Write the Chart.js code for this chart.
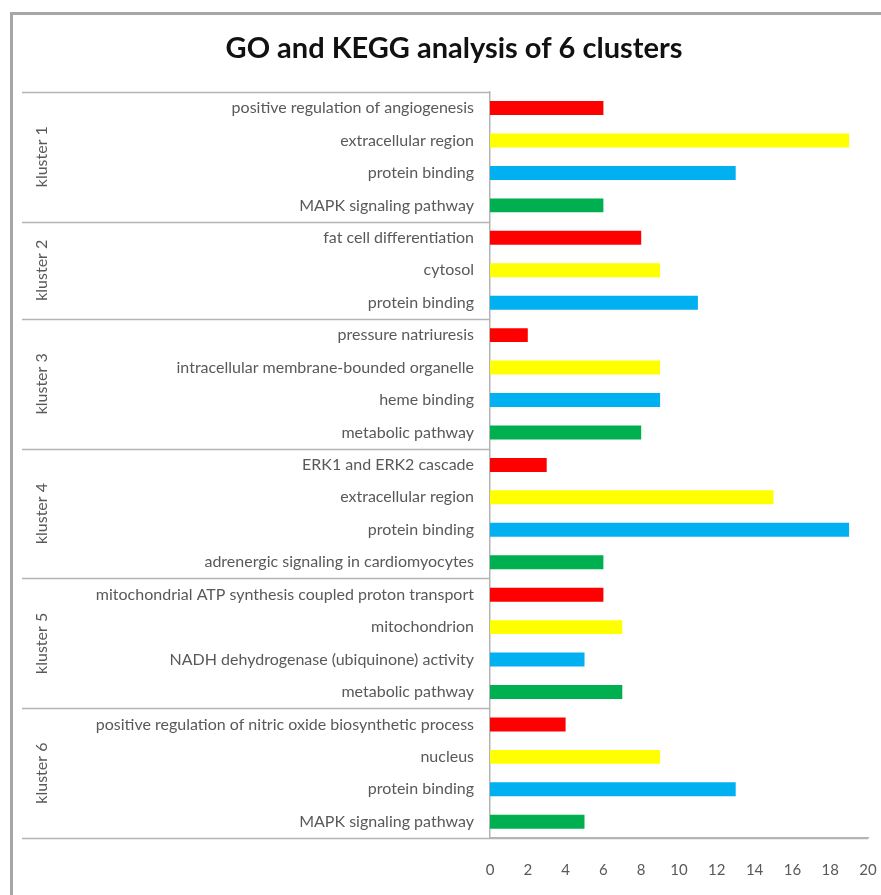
<!DOCTYPE html>
<html>
<head>
<meta charset="utf-8">
<script src="https://cdn.jsdelivr.net/npm/chart.js@4/dist/chart.umd.min.js"></script>
<style>
  html, body { margin: 0; padding: 0; background: #fff; }
  #wrap { width: 881px; height: 895px; position: relative; }
</style>
</head>
<body>
<div id="wrap"><canvas id="c" width="881" height="895"></canvas></div>
<script>
// ---- data ----
const terms = [
  "positive regulation of angiogenesis", "extracellular region", "protein binding", "MAPK signaling pathway",
  "fat cell differentiation", "cytosol", "protein binding",
  "pressure natriuresis", "intracellular membrane-bounded organelle", "heme binding", "metabolic pathway",
  "ERK1 and ERK2 cascade", "extracellular region", "protein binding", "adrenergic signaling in cardiomyocytes",
  "mitochondrial ATP synthesis coupled proton transport", "mitochondrion", "NADH dehydrogenase (ubiquinone) activity", "metabolic pathway",
  "positive regulation of nitric oxide biosynthetic process", "nucleus", "protein binding", "MAPK signaling pathway"
];
const termTypes = [
  "BP","CC","MF","KEGG",
  "BP","CC","MF",
  "BP","CC","MF","KEGG",
  "BP","CC","MF","KEGG",
  "BP","CC","MF","KEGG",
  "BP","CC","MF","KEGG"
];
const counts = [
  6, 19, 13, 6,
  8, 9, 11,
  2, 9, 9, 8,
  3, 15, 19, 6,
  6, 7, 5, 7,
  4, 9, 13, 5
];
const clusterNames = ["kluster 1", "kluster 2", "kluster 3", "kluster 4", "kluster 5", "kluster 6"];
const clusterSizes = [4, 3, 4, 4, 4, 4];
const xTicks = [0, 2, 4, 6, 8, 10, 12, 14, 16, 18, 20];
const typeColors = { BP: "#FF0000", CC: "#FFFF00", MF: "#00B0F0", KEGG: "#00B050" };

const LINE = "#b4b4b4";
const TEXT = "#595959";

const groupPlugin = {
  id: "groups",
  beforeDraw(chart) {
    const ctx = chart.ctx;
    ctx.save();
    ctx.strokeStyle = "#a6a6a6";
    ctx.lineWidth = 3;
    ctx.beginPath();
    ctx.moveTo(11.5, 900);
    ctx.lineTo(11.5, 13.5);
    ctx.lineTo(900, 13.5);
    ctx.stroke();
    ctx.restore();
  },
  afterDraw(chart) {
    const ctx = chart.ctx;
    const y = chart.scales.y;
    const x = chart.scales.x;
    const left = 22;
    const axisX = chart.chartArea.left;
    const step = y.getPixelForValue(1) - y.getPixelForValue(0);
    ctx.save();
    ctx.strokeStyle = LINE;
    ctx.lineWidth = 1.5;
    let start = 0;
    const edges = [y.getPixelForValue(0) - step / 2];
    clusterSizes.forEach(n => {
      start += n;
      edges.push(y.getPixelForValue(start - 1) + step / 2);
    });
    edges.forEach((e, i) => {
      ctx.beginPath();
      ctx.moveTo(left, Math.round(e) + 0.5);
      ctx.lineTo(i === edges.length - 1 ? x.getPixelForValue(20) : axisX, Math.round(e) + 0.5);
      ctx.stroke();
    });
    ctx.fillStyle = TEXT;
    ctx.font = "16px Lato";
    ctx.textAlign = "center";
    ctx.textBaseline = "middle";
    clusterNames.forEach((name, i) => {
      const cy = (edges[i] + edges[i + 1]) / 2;
      ctx.save();
      ctx.translate(42, cy);
      ctx.rotate(-Math.PI / 2);
      ctx.fillText(name, 0, 0);
      ctx.restore();
    });
    ctx.restore();
  }
};

new Chart(document.getElementById("c"), {
  type: "bar",
  data: {
    labels: terms,
    datasets: [{
      data: counts,
      backgroundColor: termTypes.map(t => typeColors[t]),
      borderWidth: 0,
      barPercentage: 1,
      categoryPercentage: 0.43
    }]
  },
  options: {
    indexAxis: "y",
    responsive: false,
    animation: false,
    layout: { padding: { left: 40, right: 13, top: 0, bottom: 0 } },
    plugins: {
      legend: { display: false },
      tooltip: { enabled: false },
      title: {
        display: true,
        text: "GO and KEGG analysis of 6 clusters",
        font: { family: "Lato", size: 29, weight: "bold" },
        color: "#111",
        padding: { top: 31, bottom: 26 }
      }
    },
    scales: {
      x: {
        min: 0, max: 20,
        afterBuildTicks(s) { s.ticks = xTicks.map(v => ({ value: v })); },
        afterFit(s) { s.height = 57; s.paddingRight = 0; s.paddingLeft = 0; },
        grid: { display: false, drawTicks: false },
        border: { display: true, color: LINE, width: 1.5 },
        ticks: { color: TEXT, font: { family: "Lato", size: 15 }, padding: 23, maxRotation: 0 }
      },
      y: {
        afterFit(s) { s.width = 450; },
        grid: { display: false, drawTicks: false },
        border: { display: true, color: LINE, width: 1.5 },
        ticks: { color: TEXT, font: { family: "Lato", size: 16 }, padding: 16, autoSkip: false }
      }
    }
  },
  plugins: [groupPlugin]
});
</script>
</body>
</html>
